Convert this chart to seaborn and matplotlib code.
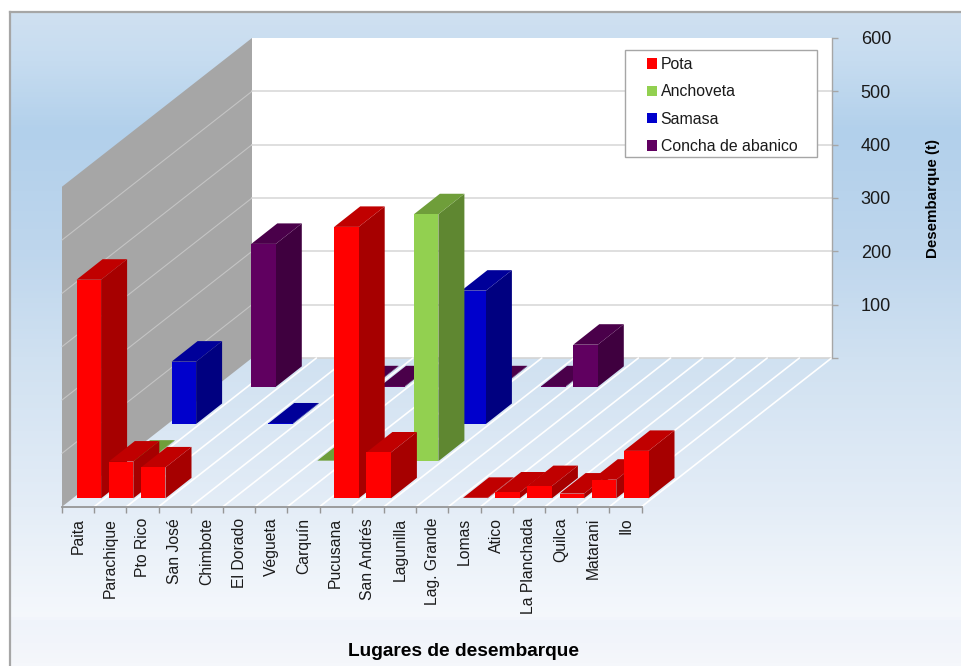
import matplotlib
matplotlib.use("Agg")
import matplotlib.pyplot as plt
import numpy as np
import pandas as pd
import seaborn as sns
from matplotlib.colors import LinearSegmentedColormap
from matplotlib.patches import Patch, Polygon, Rectangle

# Values (t)
lugares = ["Paita", "Parachique", "Pto Rico", "San José", "Chimbote", "El Dorado",
           "Végueta", "Carquín", "Pucusana", "San Andrés", "Lagunilla", "Lag. Grande",
           "Lomas", "Atico", "La Planchada", "Quilca", "Matarani", "Ilo"]
pota = [410, 69, 58, 0, 0, 0, 0, 0, 509, 86, 0, 0, 1, 11, 23, 9, 35, 89]
anchoveta = [1, 0, 0, 0, 0, 0, 1, 0, 0, 463, 0, 0, 0, 0, 0, 0, 0, 0]
samasa = [117, 0, 0, 1, 0, 0, 0, 0, 0, 250, 0, 0, 0, 0, 0, 0, 0, 0]
concha = [0, 268, 0, 0, 1, 1, 0, 0, 1, 0, 1, 79, 0, 0, 0, 0, 0, 0]
ticks_t = [0, 100, 200, 300, 400, 500, 600]

series = {"Pota": pota, "Anchoveta": anchoveta, "Samasa": samasa, "Concha de abanico": concha}
colores = {"Pota": ("#ff0000", "#a60000", "#c00000"),
           "Anchoveta": ("#92d050", "#5f8731", "#6f9e3a"),
           "Samasa": ("#0000cc", "#000080", "#000099"),
           "Concha de abanico": ("#600060", "#3f003f", "#4a004a")}

W, H = 961, 666
px_x = 32.2       # pixels per category
px_y = 320 / 600  # pixels per tonne
x0, y0 = 62, 506.7
DX, DY = 190 / px_x, 148.7 / px_y          # depth of the whole floor
slot_x, slot_y = DX / 4, DY / 4            # depth of one series
bar_dx, bar_dy = 26 / px_x, 20.5 / px_y    # depth of one bar
start_x, start_y = (slot_x - bar_dx) / 2, (slot_y - bar_dy) / 2

sns.set_theme(style="white")
plt.rcParams["font.family"] = ["Liberation Sans", "DejaVu Sans"]

fig = plt.figure(figsize=(W / 100, H / 100), dpi=100, facecolor="white")

# Background gradient
bg = fig.add_axes([10 / W, 0, (W - 10) / W, (H - 12) / H], zorder=0)
stops = [(12, "#cfe0f0"), (60, "#c6dcf0"), (130, "#b2d0eb"), (250, "#bed6ed"), (358, "#d0e1f1"),
         (507, "#e4edf7"), (619, "#f5f8fc"), (621, "#eff3fa"), (666, "#f5f7fb")]
cmap = LinearSegmentedColormap.from_list("fondo", [((y - 12) / 654, c) for y, c in stops])
bg.imshow(np.linspace(0, 1, 654)[:, None], aspect="auto", cmap=cmap, vmin=0, vmax=1)
bg.set_xticks([])
bg.set_yticks([])
for s in ["right", "bottom"]:
    bg.spines[s].set_visible(False)
for s in ["top", "left"]:
    bg.spines[s].set_visible(True)
    bg.spines[s].set_color("#a6a6a6")
    bg.spines[s].set_linewidth(1.6)

ax = fig.add_axes([0, 0, 1, 1], zorder=1)
ax.patch.set_alpha(0)

# One table, all categories kept so that the bars share the native width
frames = []
for k, (name, vals) in enumerate(series.items()):
    frames.append(pd.DataFrame({"serie": name, "pos": np.arange(18) + 0.5 + start_x + k * slot_x,
                                "valor": vals}))

# Walls and floor
ax.add_patch(Polygon([(0, 0), (DX, DY), (DX, 600 + DY), (0, 600)], fc="#a6a6a6", ec="none", zorder=1))
ax.add_patch(Rectangle((DX, DY), 18, 600, fc="white", ec="none", zorder=1))
for v in ticks_t[1:6]:
    ax.plot([0, DX], [v, v + DY], color="#c4c4c4", lw=0.8, zorder=2)
    ax.plot([DX, DX + 18], [v + DY, v + DY], color="#d9d9d9", lw=1.2, zorder=2)
ax.plot([DX, DX + 18], [DY, DY], color="#d4d4d4", lw=1.2, zorder=2)
for i in range(1, 19):
    ax.plot([i, i + DX], [0, DY], color="white", lw=1.2, zorder=2)

# Bars, from the back series to the front one
for k in [3, 2, 1, 0]:
    name = list(series)[k]
    front, side, top = colores[name]
    sns.barplot(data=frames[k], x="pos", y="valor", orient="x", native_scale=True, width=24.5 / px_x,
                color=front, saturation=1, errorbar=None, linewidth=0, ax=ax,
                bottom=start_y + k * slot_y)
    base = 10 + (3 - k) * 100
    for i, bar in enumerate(ax.containers[-1]):
        bar.set_zorder(base + 3 * i + 2)
        h = bar.get_height()
        if h <= 0:
            bar.set_visible(False)
            continue
        xl, w, yb = bar.get_x(), bar.get_width(), bar.get_y()
        ax.add_patch(Polygon([(xl + w, yb), (xl + w + bar_dx, yb + bar_dy),
                              (xl + w + bar_dx, yb + h + bar_dy), (xl + w, yb + h)],
                             fc=side, ec="none", zorder=base + 3 * i))
        ax.add_patch(Polygon([(xl, yb + h), (xl + w, yb + h),
                              (xl + w + bar_dx, yb + h + bar_dy), (xl + bar_dx, yb + h + bar_dy)],
                             fc=top, ec="none", zorder=base + 3 * i + 1))

# Axes are laid over the whole figure, in data units
ax.set_xlim(-x0 / px_x, (W - x0) / px_x)
ax.set_ylim((y0 - H) / px_y, y0 / px_y)

for s in ["top", "left"]:
    ax.spines[s].set_visible(False)
ax.spines["bottom"].set_visible(True)
ax.spines["bottom"].set_position(("data", 0))
ax.spines["bottom"].set_bounds(0, 18)
ax.spines["bottom"].set_color("#969696")
ax.spines["bottom"].set_linewidth(1.3)
ax.spines["right"].set_visible(True)
ax.spines["right"].set_position(("data", DX + 18))
ax.spines["right"].set_bounds(DY, 600 + DY)
ax.spines["right"].set_color("#a6a6a6")
ax.spines["right"].set_linewidth(1.0)

ax.set_xticks(np.arange(19))
ax.set_xticklabels([])
ax.set_xticks(np.arange(18) + 0.5, labels=lugares, minor=True, rotation=90, fontsize=11.3, color="#1a1a1a")
ax.tick_params(axis="x", which="major", bottom=True, length=4.5, width=1, color="#969696")
ax.tick_params(axis="x", which="minor", bottom=False, length=0, pad=8)

ax.yaxis.tick_right()
ax.set_yticks([v + DY for v in ticks_t], labels=[""] + [str(v) for v in ticks_t[1:]],
              fontsize=13, color="#1a1a1a")
ax.tick_params(axis="y", which="major", right=True, length=4.5, width=1, color="#a6a6a6", pad=16.5)

ax.set_xlabel("Lugares de desembarque", fontsize=13.8, fontweight="bold", color="black")
ax.xaxis.set_label_coords(463 / W, 1 - 652 / H)
ax.xaxis.label.set_va("center")
ax.set_ylabel("Desembarque (t)", fontsize=10.9, fontweight="bold", color="black")
ax.yaxis.set_label_position("right")
ax.yaxis.set_label_coords(933 / W, 1 - 198 / H)
ax.yaxis.label.set_va("center")

# Legend
ax.add_patch(Rectangle((625 / W, 1 - 157 / H), 192 / W, 107 / H, transform=ax.transAxes,
                       fc="white", ec="#a6a6a6", lw=1.0, zorder=900))
handles = [Patch(fc=colores[n][0], ec="none", label=n) for n in series]
leg = ax.legend(handles=handles, loc="upper left", bbox_to_anchor=(640 / W, 1 - 50 / H), frameon=False,
                fontsize=11.4, handlelength=0.62, handleheight=0.62, handletextpad=0.25,
                labelspacing=0.78, borderaxespad=0, borderpad=0.44, labelcolor="#1a1a1a")
leg.set_zorder(901)

fig.savefig("out.png", dpi=100)
